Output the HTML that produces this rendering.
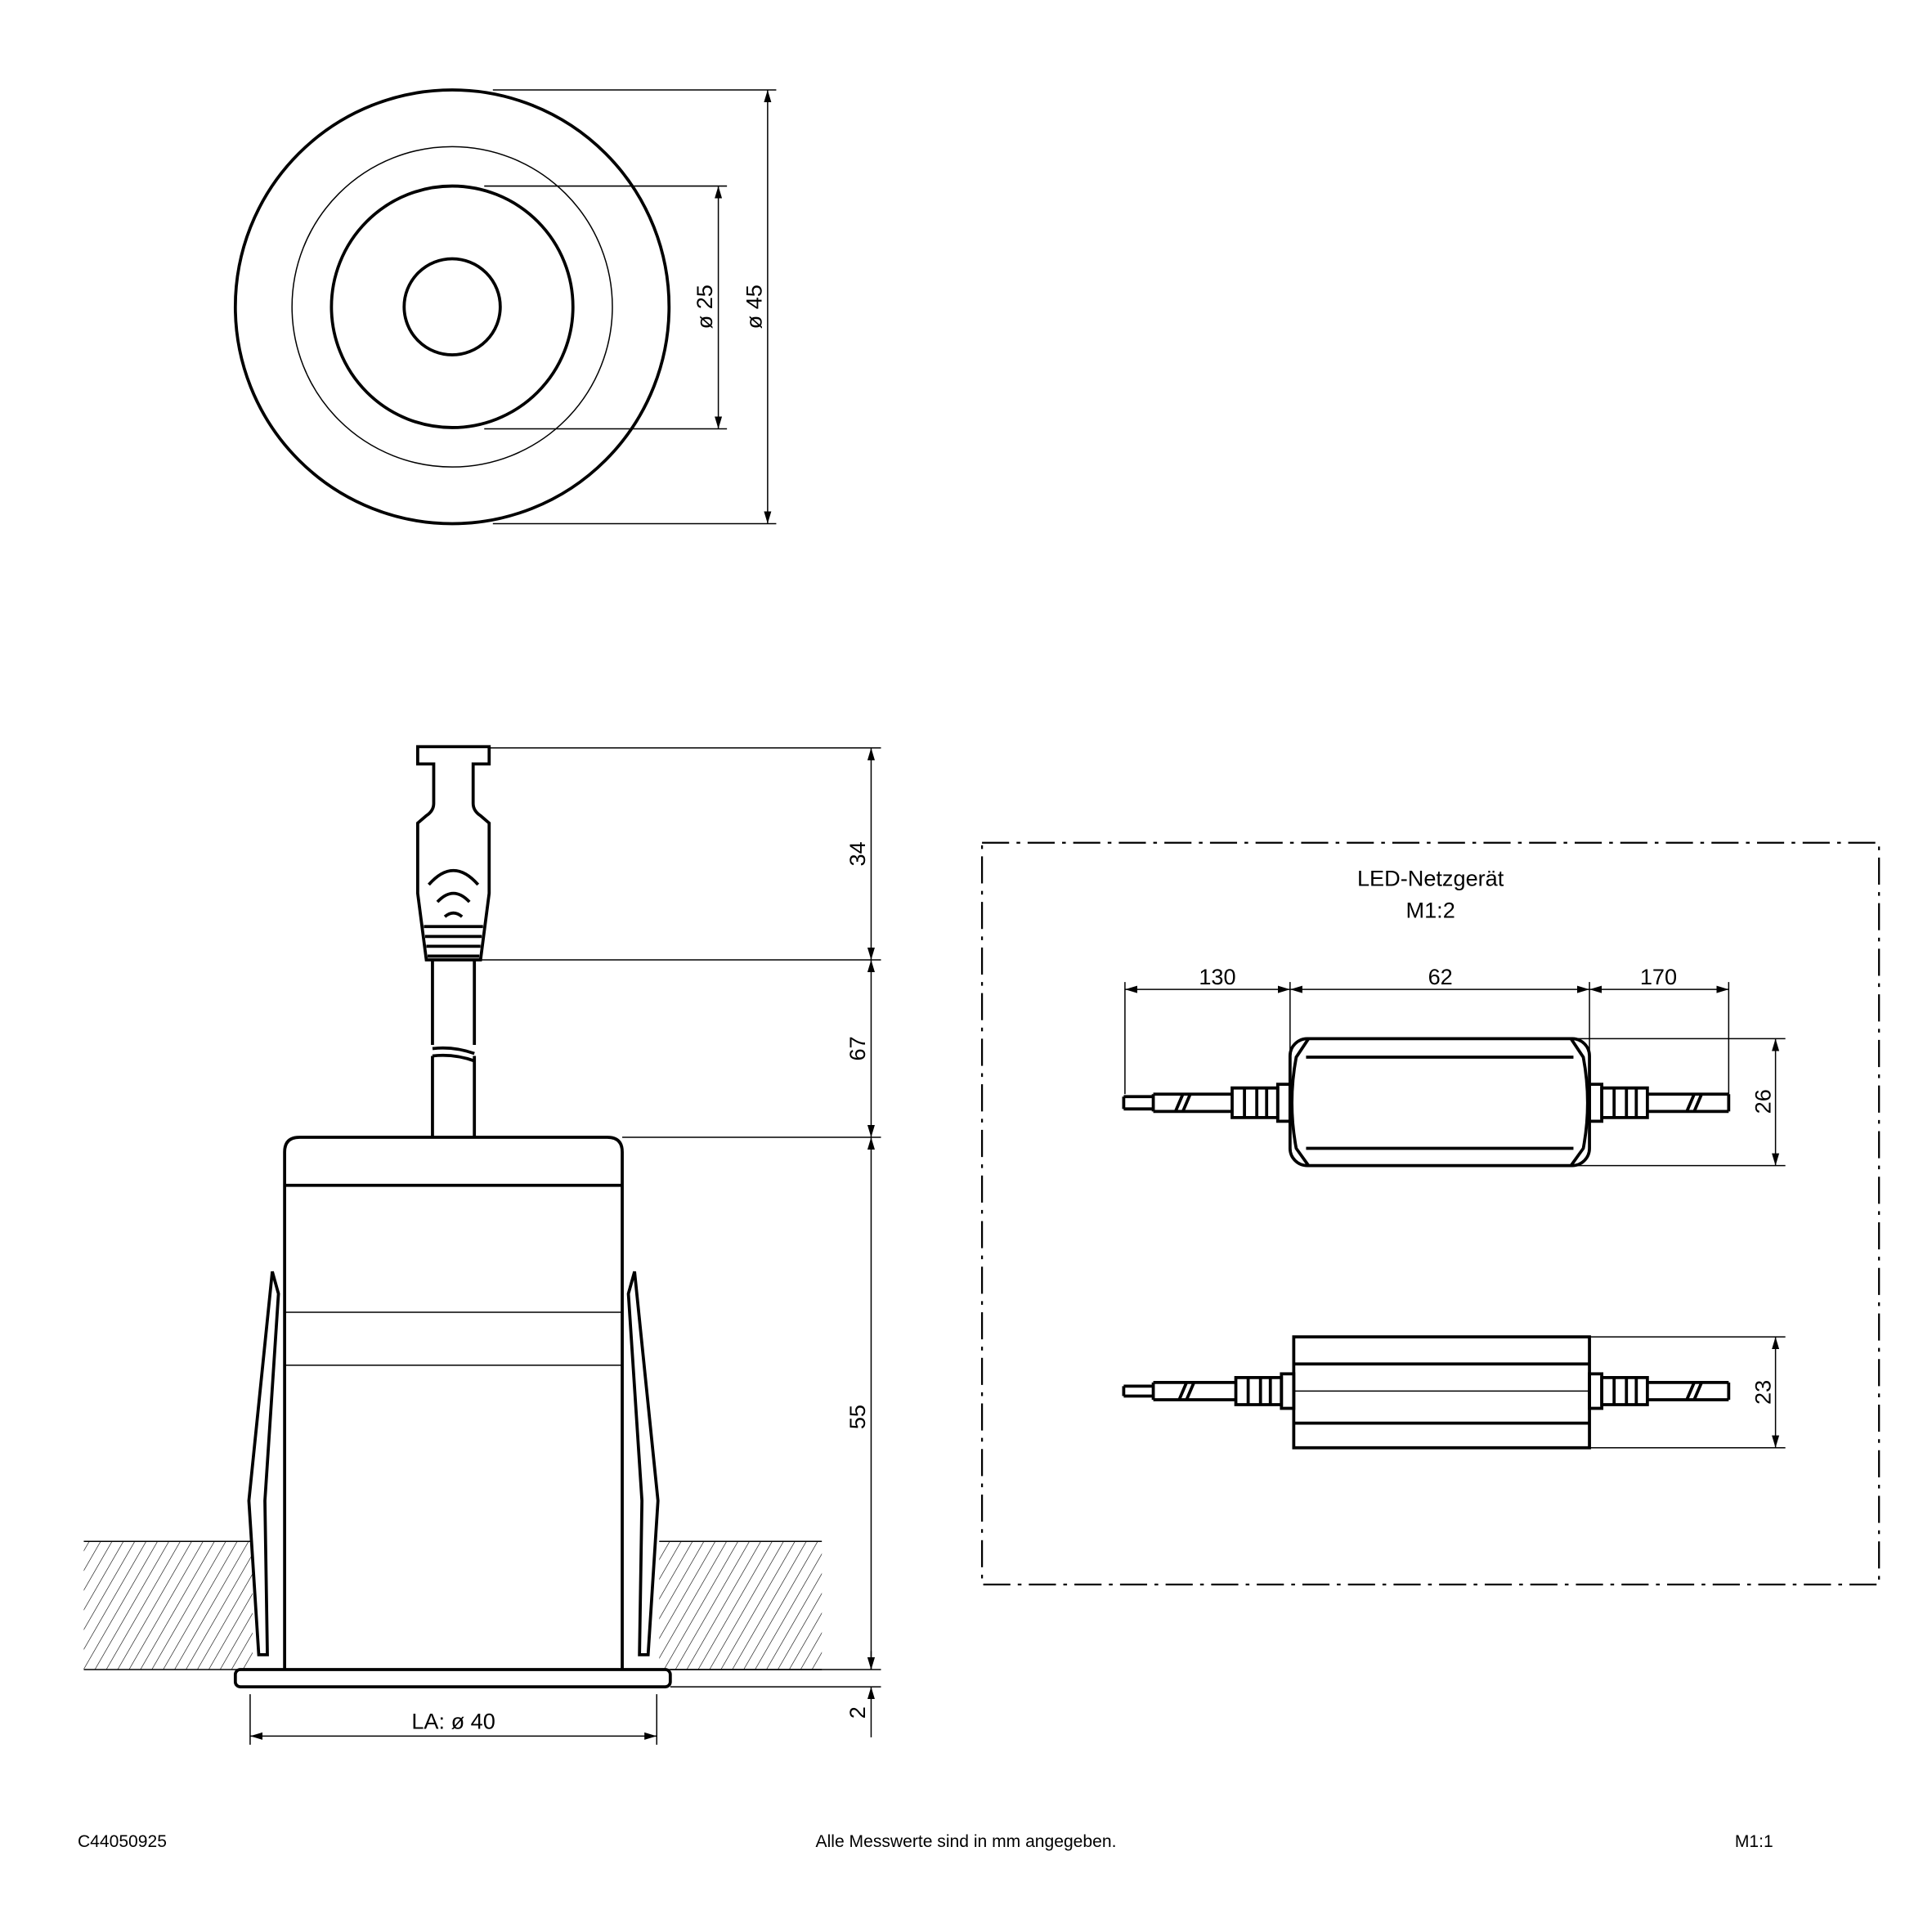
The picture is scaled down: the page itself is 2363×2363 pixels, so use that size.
<!DOCTYPE html>
<html><head><meta charset="utf-8"><style>html,body{margin:0;padding:0;background:#fff}svg{display:block}</style></head>
<body>
<svg width="2363" height="2363" viewBox="0 0 1568 1568" xmlns="http://www.w3.org/2000/svg" font-family="Liberation Sans, sans-serif" fill="none" stroke="#000">
<defs>
<marker id="a" viewBox="0 0 10 10" refX="10" refY="5" markerWidth="10" markerHeight="10" markerUnits="userSpaceOnUse" orient="auto-start-reverse"><path d="M0,2 L10,5 L0,8 z" fill="#000" stroke="none"/></marker>
<pattern id="h" width="8" height="8" patternUnits="userSpaceOnUse" patternTransform="rotate(30)"><line x1="0" y1="0" x2="0" y2="8" stroke="#000" stroke-width="0.8"/></pattern>
</defs>
<!-- top view -->
<circle cx="367" cy="249" r="176" stroke-width="2.5"/>
<circle cx="367" cy="249" r="130" stroke-width="1"/>
<circle cx="367" cy="249" r="98" stroke-width="2.5"/>
<circle cx="367" cy="249" r="39" stroke-width="2.5"/>
<g stroke-width="1">
<line x1="400" y1="73" x2="630" y2="73"/><line x1="400" y1="425" x2="630" y2="425"/>
<line x1="623" y1="73" x2="623" y2="425" marker-start="url(#a)" marker-end="url(#a)"/>
<line x1="393" y1="151" x2="590" y2="151"/><line x1="393" y1="348" x2="590" y2="348"/>
<line x1="583" y1="151" x2="583" y2="348" marker-start="url(#a)" marker-end="url(#a)"/>
</g>
<g fill="#000" stroke="none" font-size="18" text-anchor="middle">
<text transform="translate(578,249) rotate(-90)">ø 25</text>
<text transform="translate(618,249) rotate(-90)">ø 45</text>
</g>
<!-- ground hatch -->
<rect x="68" y="1251" width="137" height="104" fill="url(#h)" stroke="none"/>
<rect x="535" y="1251" width="132" height="104" fill="url(#h)" stroke="none"/>
<g stroke-width="1"><line x1="68" y1="1251" x2="205" y2="1251"/><line x1="535" y1="1251" x2="667" y2="1251"/>
<line x1="68" y1="1355" x2="205" y2="1355"/><line x1="535" y1="1355" x2="667" y2="1355"/></g>
<!-- housing -->
<g stroke-width="2.5">
<path d="M231,1355 V935 Q231,923 243,923 H493 Q505,923 505,935 V1355" fill="#fff"/>
<line x1="231" y1="962" x2="505" y2="962"/>
<rect x="191" y="1355" width="353" height="14" rx="4" fill="#fff"/>
<path d="M221,1032 L202,1218 L210,1343 L217,1343 L215,1218 L226,1050 Z" fill="#fff"/>
<path d="M515,1032 L534,1218 L526,1343 L519,1343 L521,1218 L510,1050 Z" fill="#fff"/>
</g>
<g stroke-width="1"><line x1="231" y1="1065" x2="505" y2="1065"/><line x1="231" y1="1108" x2="505" y2="1108"/></g>
<!-- cable & connector -->
<g stroke-width="2.5">
<line x1="351" y1="780" x2="351" y2="848"/><line x1="385" y1="780" x2="385" y2="848"/>
<line x1="351" y1="857" x2="351" y2="923"/><line x1="385" y1="857" x2="385" y2="923"/>
<path d="M351,851 Q368,849 385,855"/><path d="M351,857 Q368,855 385,861"/>
<path d="M339,606 H397 V620 H384 V652 Q384,658 390,662 L397,668 V725 L390,779 H346 L339,725 V668 L346,662 Q352,658 352,652 V620 H339 Z" fill="#fff"/>
<path d="M348,718 Q368,695 388,718"/><path d="M355,732 Q368,718 381,732"/><path d="M361,744 Q368,738 375,744"/>
<line x1="344" y1="752" x2="392" y2="752"/><line x1="345" y1="760" x2="391" y2="760"/><line x1="346" y1="768" x2="390" y2="768"/><line x1="347" y1="776" x2="389" y2="776"/>
</g>
<!-- right dims -->
<g stroke-width="1">
<line x1="398" y1="607" x2="715" y2="607"/><line x1="390" y1="779" x2="715" y2="779"/>
<line x1="505" y1="923" x2="715" y2="923"/><line x1="544" y1="1355" x2="715" y2="1355"/><line x1="544" y1="1369" x2="715" y2="1369"/>
<line x1="707" y1="607" x2="707" y2="779" marker-start="url(#a)" marker-end="url(#a)"/>
<line x1="707" y1="779" x2="707" y2="923" marker-start="url(#a)" marker-end="url(#a)"/>
<line x1="707" y1="923" x2="707" y2="1355" marker-start="url(#a)" marker-end="url(#a)"/>
<line x1="707" y1="1340" x2="707" y2="1355" marker-end="url(#a)"/>
<line x1="707" y1="1410" x2="707" y2="1369" marker-end="url(#a)"/>
<line x1="203" y1="1375" x2="203" y2="1416"/><line x1="533" y1="1375" x2="533" y2="1416"/>
<line x1="203" y1="1409" x2="533" y2="1409" marker-start="url(#a)" marker-end="url(#a)"/>
</g>
<g fill="#000" stroke="none" font-size="18" text-anchor="middle">
<text transform="translate(702,693) rotate(-90)">34</text>
<text transform="translate(702,851) rotate(-90)">67</text>
<text transform="translate(702,1150) rotate(-90)">55</text>
<text transform="translate(702,1390) rotate(-90)">2</text>
<text x="368" y="1403">LA: ø 40</text>
</g>
<!-- dashed box -->
<rect x="797" y="684" width="728" height="602" stroke-width="1.5" stroke-dasharray="22,6,3,6"/>
<g fill="#000" stroke="none" font-size="18" text-anchor="middle">
<text x="1161" y="719">LED-Netzgerät</text><text x="1161" y="745">M1:2</text>
<text x="988" y="799">130</text><text x="1169" y="799">62</text><text x="1346" y="799">170</text>
<text transform="translate(1437,894) rotate(-90)">26</text>
<text transform="translate(1437,1130) rotate(-90)">23</text>
</g>
<g stroke-width="1">
<line x1="913" y1="797" x2="913" y2="888"/><line x1="1047" y1="797" x2="1047" y2="858"/><line x1="1290" y1="797" x2="1290" y2="858"/><line x1="1403" y1="797" x2="1403" y2="888"/>
<line x1="913" y1="803" x2="1047" y2="803" marker-start="url(#a)" marker-end="url(#a)"/>
<line x1="1047" y1="803" x2="1290" y2="803" marker-start="url(#a)" marker-end="url(#a)"/>
<line x1="1290" y1="803" x2="1403" y2="803" marker-start="url(#a)" marker-end="url(#a)"/>
<line x1="1280" y1="843" x2="1449" y2="843"/><line x1="1280" y1="946" x2="1449" y2="946"/>
<line x1="1441" y1="843" x2="1441" y2="946" marker-start="url(#a)" marker-end="url(#a)"/>
<line x1="1290" y1="1085" x2="1449" y2="1085"/><line x1="1290" y1="1175" x2="1449" y2="1175"/>
<line x1="1441" y1="1085" x2="1441" y2="1175" marker-start="url(#a)" marker-end="url(#a)"/>
<line x1="1050" y1="1129" x2="1290" y2="1129"/>
</g>
<!-- PSU top -->
<g stroke-width="2.5">
<rect x="1047" y="843" width="243" height="103" rx="14" fill="#fff"/>
<line x1="1060" y1="858" x2="1277" y2="858"/><line x1="1060" y1="932" x2="1277" y2="932"/>
<path d="M1062,843 L1052,858 Q1045,895 1052,932 L1062,946"/><path d="M1275,843 L1285,858 Q1292,895 1285,932 L1275,946"/>
<rect x="1037" y="880" width="10" height="30"/><rect x="1290" y="880" width="10" height="30"/>
<path d="M1000,883 h37 v24 h-37 z M1010,883 v24 M1020,883 v24 M1028,883 v24"/>
<path d="M1300,883 h37 v24 h-37 z M1310,883 v24 M1320,883 v24 M1328,883 v24"/>
<path d="M936,888 h64 M936,902 h64 M936,888 v14 M912,890 h24 M912,900 h24 M912,890 v10 M960,888 l-6,14 M966,888 l-6,14"/>
<path d="M1337,888 h66 M1337,902 h66 M1403,888 v14 M1375,888 l-6,14 M1381,888 l-6,14"/>
</g>
<!-- PSU bottom -->
<g stroke-width="2.5">
<rect x="1050" y="1085" width="240" height="90" fill="#fff"/>
<line x1="1050" y1="1107" x2="1290" y2="1107"/><line x1="1050" y1="1155" x2="1290" y2="1155"/>
<rect x="1040" y="1115" width="10" height="28"/><rect x="1290" y="1115" width="10" height="28"/>
<path d="M1003,1118 h37 v22 h-37 z M1013,1118 v22 M1023,1118 v22 M1031,1118 v22"/>
<path d="M1300,1118 h37 v22 h-37 z M1310,1118 v22 M1320,1118 v22 M1328,1118 v22"/>
<path d="M936,1122 h67 M936,1136 h67 M936,1122 v14 M912,1125 h24 M912,1133 h24 M912,1125 v8 M963,1122 l-6,14 M969,1122 l-6,14"/>
<path d="M1337,1122 h66 M1337,1136 h66 M1403,1122 v14 M1375,1122 l-6,14 M1381,1122 l-6,14"/>
</g>
<line x1="1050" y1="1129" x2="1290" y2="1129" stroke-width="1"/>
<!-- footer -->
<g fill="#000" stroke="none" font-size="14">
<text x="63" y="1499">C44050925</text>
<text x="784" y="1499" text-anchor="middle">Alle Messwerte sind in mm angegeben.</text>
<text x="1408" y="1499">M1:1</text>
</g>
</svg>
</body></html>
